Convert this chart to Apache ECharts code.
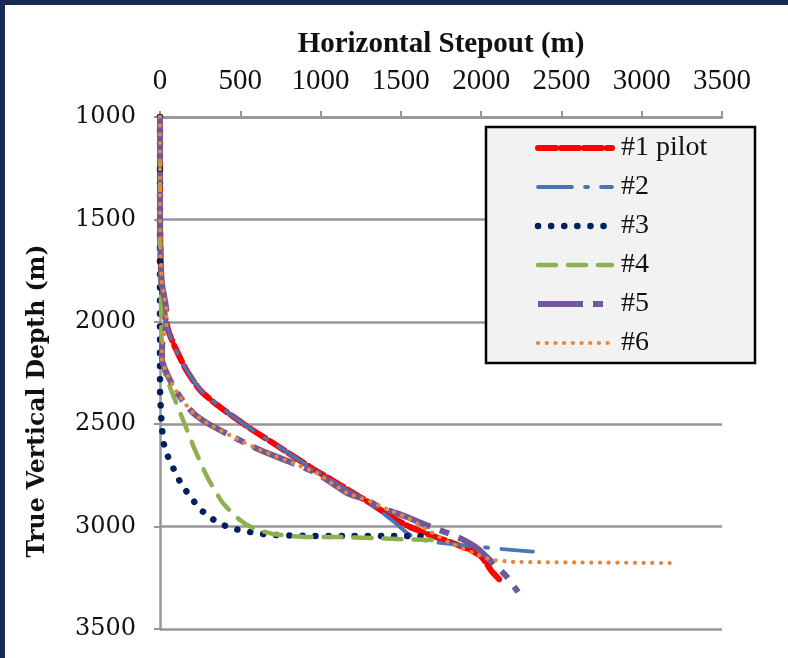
<!DOCTYPE html>
<html>
<head>
<meta charset="utf-8">
<script src="https://cdn.jsdelivr.net/npm/echarts@6/dist/echarts.min.js"></script>
<style>
html,body{margin:0;padding:0;background:#172a52;width:788px;height:658px;overflow:hidden;}
#c{position:absolute;left:5px;top:5px;width:783px;height:653px;background:#fff;}
</style>
</head>
<body>
<div id="c"></div>
<script>
const seriesNames = ['#1 pilot', '#2', '#3', '#4', '#5', '#6'];
const xTicks = [0, 500, 1000, 1500, 2000, 2500, 3000, 3500];
const yTicks = [1000, 1500, 2000, 2500, 3000, 3500];

const well1 = [[0,1000],[0,1500],[8,1800],[25,1950],[55,2050],[93,2123],[160,2230],[249,2333],[355,2406],[560,2520],[704,2592],[934,2709],[1071,2773],[1183,2826],[1308,2885],[1432,2948],[1557,3002],[1682,3041],[1806,3075],[1931,3114],[2005,3150],[2068,3220],[2130,3272]];
const well2 = [[0,1000],[0,1500],[8,1800],[25,1950],[55,2050],[100,2140],[170,2240],[260,2340],[370,2412],[560,2520],[720,2600],[934,2709],[1100,2790],[1250,2862],[1389,2935],[1470,2985],[1540,3032],[1600,3058],[1700,3075],[1850,3088],[2000,3100],[2136,3110],[2323,3122]];
const well3 = [[0,1000],[0,1500],[0,2000],[0,2323],[6,2445],[12,2513],[19,2577],[37,2635],[68,2690],[106,2753],[143,2806],[193,2856],[237,2904],[299,2948],[367,2982],[442,3007],[517,3020],[598,3031],[679,3040],[900,3045],[1200,3046],[1400,3046],[1650,3047]];
const well4 = [[0,1000],[0,1500],[5,1800],[8,2000],[12,2150],[30,2250],[75,2345],[156,2504],[218,2626],[299,2765],[392,2885],[498,2968],[579,3007],[704,3036],[915,3051],[1102,3051],[1327,3056],[1476,3061],[1700,3066]];
const well5 = [[0,1000],[0,1500],[10,1800],[40,1950],[40,2010],[15,2100],[12,2180],[62,2284],[125,2367],[206,2445],[293,2494],[455,2562],[623,2626],[828,2690],[978,2740],[1165,2836],[1289,2870],[1370,2905],[1538,2953],[1650,2990],[1787,3030],[1881,3061],[1975,3105],[2070,3175],[2161,3246],[2230,3320]];
const well6 = [[0,1000],[0,1500],[10,1800],[40,1950],[40,2010],[15,2100],[12,2180],[62,2284],[125,2367],[206,2445],[293,2494],[455,2562],[623,2626],[828,2690],[978,2740],[1165,2836],[1289,2870],[1370,2900],[1538,2955],[1663,3015],[1806,3080],[1950,3128],[2055,3160],[2200,3172],[2600,3175],[3180,3178]];

const colors = ['#ff0000', '#4677b4', '#002060', '#8eb050', '#71589a', '#e3873c'];
const dashes = [[18, 5], [34, 13, 3, 13], [0.1, 13], [18, 12], [45, 10, 10, 10], [0.1, 8.6]];
const widths = [6, 3.8, 6.5, 4.5, 6, 4.2];
const caps = ['round', 'round', 'round', 'round', 'butt', 'round'];
const allData = [well1, well2, well3, well4, well5, well6];

const chart = echarts.init(document.getElementById('c'), null, {renderer: 'canvas'});
const gridColor = '#969696';

const legendGraphics = [
  {type: 'rect', z: 10, shape: {x: 481, y: 122, width: 269, height: 236},
   style: {fill: '#f2f2f2', stroke: '#000', lineWidth: 2.5}}
];
seriesNames.forEach((n, i) => {
  const y = 143 + i * 39;
  legendGraphics.push({type: 'line', z: 11, shape: {x1: 533, y1: y, x2: 607, y2: y},
    style: {stroke: colors[i], lineWidth: widths[i], lineDash: dashes[i], lineCap: caps[i]}});
  legendGraphics.push({type: 'text', z: 11, x: 616, y: y,
    style: {text: n, font: '28px "Liberation Serif"', fill: '#111', textVerticalAlign: 'middle'}});
});

chart.setOption({
  animation: false,
  backgroundColor: '#ffffff',
  grid: {left: 155, top: 112, width: 562, height: 512, containLabel: false},
  xAxis: {
    type: 'value', position: 'top', min: 0, max: 3500, interval: 500,
    name: 'Horizontal Stepout (m)', nameLocation: 'middle', nameGap: 58,
    nameTextStyle: {fontFamily: 'Liberation Serif', fontWeight: 'bold', fontSize: 29, color: '#111'},
    axisLine: {show: true, lineStyle: {color: gridColor, width: 2.5}},
    axisTick: {show: true, inside: false, length: 6, lineStyle: {color: gridColor, width: 2}},
    axisLabel: {margin: 21, fontFamily: 'Liberation Serif', fontSize: 29, color: '#111',
      formatter: v => xTicks.includes(v) ? String(v) : ''},
    splitLine: {show: false}
  },
  yAxis: {
    type: 'value', inverse: true, min: 1000, max: 3500, interval: 500,
    axisLine: {show: true, lineStyle: {color: gridColor, width: 2.5}},
    axisTick: {show: true, inside: false, length: 6, lineStyle: {color: gridColor, width: 2}},
    axisLabel: {margin: 24, fontFamily: 'DejaVu Serif', fontSize: 24, color: '#111',
      formatter: v => yTicks.includes(v) ? String(v) : ''},
    splitLine: {show: true, lineStyle: {color: gridColor, width: 2.5}}
  },
  graphic: legendGraphics.concat([
    {type: 'text', x: 33, y: 396, rotation: Math.PI / 2,
     style: {text: 'True Vertical Depth (m)', font: 'bold 23.5px "DejaVu Serif"', fill: '#111',
       textAlign: 'center', textVerticalAlign: 'middle'}}
  ]),
  series: seriesNames.map((n, i) => ({
    name: n, type: 'line', data: allData[i], symbol: 'none', showSymbol: false,
    smooth: 0.2, clip: true,
    lineStyle: {color: colors[i], width: widths[i], type: dashes[i], cap: caps[i]},
    itemStyle: {color: colors[i]}
  }))
});
</script>
</body>
</html>
